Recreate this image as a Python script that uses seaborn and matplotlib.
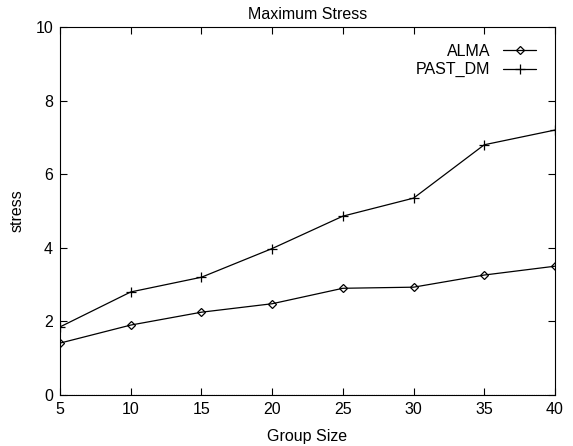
import matplotlib
matplotlib.use("Agg")
import matplotlib.pyplot as plt
import seaborn as sns
import pandas as pd

group_size = [5, 10, 15, 20, 25, 30, 35, 40]
alma = [1.41, 1.90, 2.25, 2.48, 2.90, 2.93, 3.26, 3.50]
past_dm = [1.85, 2.80, 3.20, 3.98, 4.86, 5.35, 6.80, 7.20]

sns.set_style("ticks")
plt.rcParams['font.family'] = ['Liberation Sans', 'DejaVu Sans']
plt.rcParams['text.color'] = 'black'
plt.rcParams['axes.labelcolor'] = 'black'
FS = 11.5

fig = plt.figure(figsize=(5.73, 4.46), dpi=100)
ax = fig.add_axes([60/573, 51/446, 495/573, 368/446])

sns.lineplot(x=group_size, y=alma, ax=ax, color="black", linewidth=0.9,
             marker="D", markersize=4.5, markerfacecolor="none",
             markeredgecolor="black", markeredgewidth=0.9, label="ALMA")
sns.lineplot(x=group_size, y=past_dm, ax=ax, color="black", linewidth=0.9,
             marker="+", markersize=7, markeredgecolor="black",
             markeredgewidth=0.9, label="PAST_DM")

ax.axhline(0, color="black", linestyle=(0, (1, 1)), linewidth=0.8)
ax.set_xlim(5, 40)
ax.set_ylim(0, 10)
ax.set_xticks(range(5, 41, 5))
ax.set_yticks(range(0, 11, 2))
ax.tick_params(direction="in", length=5, width=0.8, top=True, right=True,
               labelsize=FS, colors="black", pad=5)
for s in ax.spines.values():
    s.set_visible(True)
    s.set_linewidth(0.8)
    s.set_color("black")
ax.set_xlabel("Group Size", fontsize=FS, labelpad=9, color="black")
ax.set_ylabel("stress", fontsize=FS, labelpad=8, color="black")
ax.set_title("Maximum Stress", fontsize=FS, pad=6, color="black")

handles, labels = ax.get_legend_handles_labels()
leg = ax.legend(handles, labels, loc="upper right", frameon=False, markerfirst=False,
                fontsize=FS, handlelength=2.1, handletextpad=0.8, borderaxespad=0.3,
                labelspacing=0.22, bbox_to_anchor=(0.985, 0.985))
for t in leg.get_texts():
    t.set_ha("right")
    t.set_color("black")

fig.savefig("out.png", dpi=100)
